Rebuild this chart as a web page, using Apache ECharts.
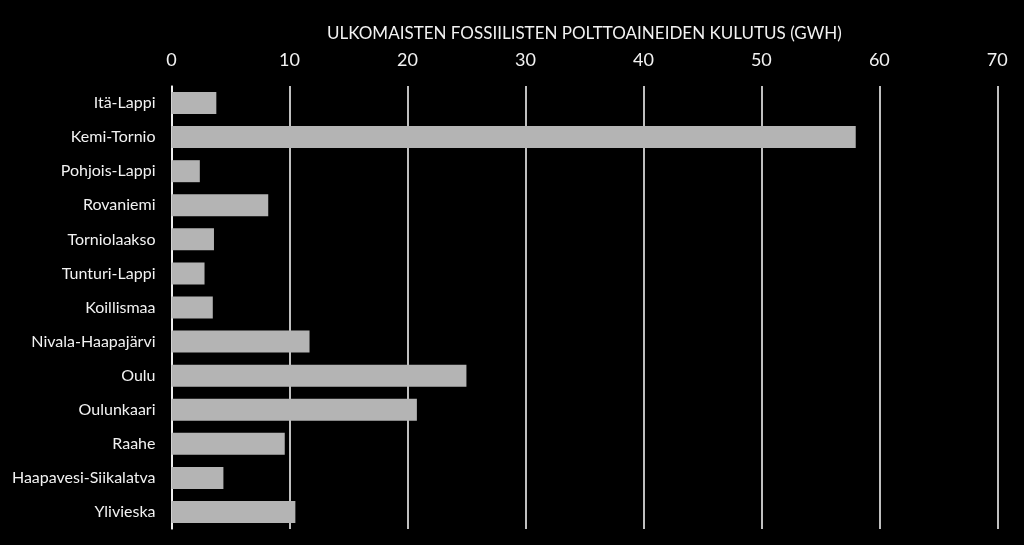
<!DOCTYPE html>
<html>
<head>
<meta charset="utf-8">
<script src="https://cdn.jsdelivr.net/npm/echarts@6/dist/echarts.min.js"></script>
<style>
  html, body { margin: 0; padding: 0; background: #000; }
  #main { width: 1024px; height: 545px; }
</style>
</head>
<body>
<div id="main"></div>
<script>
let regions = ['Itä-Lappi', 'Kemi-Tornio', 'Pohjois-Lappi', 'Rovaniemi', 'Torniolaakso', 'Tunturi-Lappi',
    'Koillismaa', 'Nivala-Haapajärvi', 'Oulu', 'Oulunkaari', 'Raahe', 'Haapavesi-Siikalatva', 'Ylivieska'];
let consumption = [3.8, 58.0, 2.4, 8.2, 3.6, 2.8, 3.5, 11.7, 25.0, 20.8, 9.6, 4.4, 10.5];
let axisTitle = 'ULKOMAISTEN FOSSIILISTEN POLTTOAINEIDEN KULUTUS (GWH)';

let myChart = echarts.init(document.getElementById('main'));
let option = {
    backgroundColor: '#000000',
    animation: false,
    textStyle: {fontFamily: 'Lato'},
    grid: {
        left: 171.5,
        right: 26.7,
        top: 86,
        bottom: 16
    },
    xAxis: {
        type: 'value',
        position: 'top',
        min: 0,
        max: 70,
        interval: 10,
        name: axisTitle,
        nameLocation: 'middle',
        nameGap: 44,
        nameTextStyle: {color: '#f2f2f2', fontSize: 17},
        axisLine: {show: false},
        axisTick: {show: false},
        axisLabel: {color: '#f2f2f2', fontSize: 18, margin: 17},
        splitLine: {lineStyle: {color: '#ffffff', width: 1.5}}
    },
    yAxis: {
        type: 'category',
        inverse: true,
        data: regions,
        axisLine: {show: true, lineStyle: {color: '#ffffff', width: 1.5}},
        axisTick: {show: false},
        axisLabel: {color: '#f2f2f2', fontSize: 16, margin: 16}
    },
    series: [
        {
            name: 'kulutus',
            type: 'bar',
            data: consumption,
            barWidth: 22,
            itemStyle: {color: '#b4b4b4'}
        }
    ]
};
myChart.setOption(option);
</script>
</body>
</html>
